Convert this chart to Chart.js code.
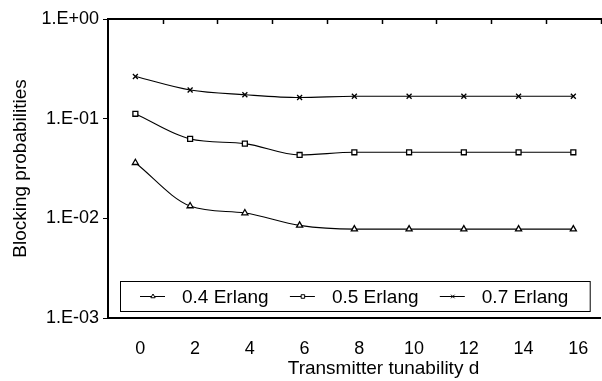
<!DOCTYPE html>
<html>
<head>
<meta charset="utf-8">
<script src="https://cdn.jsdelivr.net/npm/chart.js@4.4.1/dist/chart.umd.min.js"></script>
<style>
html, body { margin:0; padding:0; overflow:hidden; background:#fff; }
#wrap { position:relative; width:606px; height:381px; }
#xtitle { position:absolute; left:0; top:357px; width:767px; text-align:center; white-space:nowrap;
  font:19px "Liberation Sans", Arial, sans-serif; line-height:22px; color:#000; }
</style>
</head>
<body>
<div id="wrap">
<canvas id="blockingChart" width="606" height="381"></canvas>
<div id="xtitle">Transmitter tunability d</div>
</div>
<script>
// data
const dValues = ['0','2','4','6','8','10','12','14','16'];
const erlang04 = [0.0361, 0.0133, 0.0113, 0.0085, 0.0078, 0.0078, 0.0078, 0.0078, 0.0078];
const erlang05 = [0.112, 0.0626, 0.0562, 0.0432, 0.046, 0.046, 0.046, 0.046, 0.046];
const erlang07 = [0.265, 0.194, 0.174, 0.163, 0.168, 0.168, 0.168, 0.168, 0.168];
const seriesNames = ['0.4 Erlang', '0.5 Erlang', '0.7 Erlang'];
const yTickValues = [0.001, 0.01, 0.1, 1];
const yTickLabels = ['1.E-03', '1.E-02', '1.E-01', '1.E+00'];

const FONT = '"Liberation Sans", Arial, sans-serif';

function makeSet(label, data, style, r){
  return {
    label: label,
    data: data,
    borderColor: '#000',
    borderWidth: 1.1,
    pointStyle: style,
    pointRadius: r,
    pointBorderWidth: 1.3,
    pointBorderColor: '#000',
    pointBackgroundColor: '#fff',
    cubicInterpolationMode: 'monotone',
    clip: false
  };
}

// top frame line with inward ticks between categories
const topFrame = {
  id: 'topFrame',
  afterDraw(chart){
    const ctx = chart.ctx;
    const area = chart.chartArea;
    const xs = chart.scales.x;
    const step = xs.getPixelForTick(1) - xs.getPixelForTick(0);
    ctx.save();
    ctx.strokeStyle = '#000';
    ctx.lineWidth = 2;
    ctx.beginPath();
    ctx.moveTo(area.left - 1, area.top);
    ctx.lineTo(chart.width, area.top);
    ctx.stroke();
    ctx.lineWidth = 1.5;
    for(let i = 0; i < dValues.length; i++){
      const x = Math.round(xs.getPixelForTick(i) + step / 2) + 0.5;
      ctx.beginPath();
      ctx.moveTo(x, area.top);
      ctx.lineTo(x, area.top + 5);
      ctx.stroke();
    }
    ctx.restore();
  }
};

// boxed legend sitting inside the plot, at the bottom
const boxLegend = {
  id: 'boxLegend',
  afterDatasetsDraw(chart){
    const ctx = chart.ctx;
    const area = chart.chartArea;
    const left = area.left + 12, right = area.right - 11;
    const top = area.bottom - 37, bottom = area.bottom - 7;
    ctx.save();
    ctx.fillStyle = '#fff';
    ctx.fillRect(left, top, right - left, bottom - top);
    ctx.strokeStyle = '#000';
    ctx.lineWidth = 1;
    ctx.strokeRect(left + 0.5, top + 0.5, right - left, bottom - top);
    const cy = Math.round((top + bottom) / 2) + 0.5;
    const slot = (right - left - 20) / 3;
    ctx.font = '19px ' + FONT;
    ctx.textBaseline = 'middle';
    chart.data.datasets.forEach((ds, i) => {
      const x0 = left + 20 + i * slot;
      ctx.strokeStyle = '#000';
      ctx.lineWidth = 1;
      ctx.beginPath();
      ctx.moveTo(x0, cy);
      ctx.lineTo(x0 + 25, cy);
      ctx.stroke();
      ctx.fillStyle = '#fff';
      Chart.helpers.drawPoint(ctx, {pointStyle: ds.pointStyle, radius: 2.5, borderWidth: 1}, x0 + 13, cy);
      ctx.fillStyle = '#000';
      ctx.fillText(seriesNames[i], x0 + 42, cy + 1);
    });
    ctx.restore();
  }
};

const ctx = document.getElementById('blockingChart');

new Chart(ctx, {
  type: 'line',
  data: {
    labels: dValues,
    datasets: [
      makeSet(seriesNames[0], erlang04, 'triangle', 3.5),
      makeSet(seriesNames[1], erlang05, 'rect', 3.5),
      makeSet(seriesNames[2], erlang07, 'crossRot', 3.5)
    ]
  },
  options: {
    responsive: false,
    animation: false,
    devicePixelRatio: 1,
    layout: { padding: { top: 19, right: 1, bottom: 0, left: 0 } },
    plugins: { legend: { display: false }, tooltip: { enabled: false } },
    scales: {
      x: {
        type: 'category',
        offset: true,
        grid: { display: false, drawTicks: false },
        border: { color: '#000', width: 2 },
        ticks: { color: '#000', font: { family: FONT, size: 18 }, padding: 20, labelOffset: 5, maxRotation: 0, autoSkip: false },
        afterFit: s => { s.height = 63; }
      },
      y: {
        type: 'logarithmic',
        min: 0.001,
        max: 1,
        afterBuildTicks: s => { s.ticks = yTickValues.map(v => ({ value: v })); },
        afterFit: s => { s.width = 108; },
        ticks: { color: '#000', font: { family: FONT, size: 18 }, padding: 4, callback: (v, i) => yTickLabels[i] },
        grid: { drawOnChartArea: false, drawTicks: true, tickLength: 5, color: '#000', lineWidth: 1 },
        border: { color: '#000', width: 2 },
        title: { display: true, text: 'Blocking probabilities', color: '#000', font: { family: FONT, size: 19 }, padding: { top: 9, bottom: 0 } }
      }
    }
  },
  plugins: [topFrame, boxLegend]
});
</script>
</body>
</html>
